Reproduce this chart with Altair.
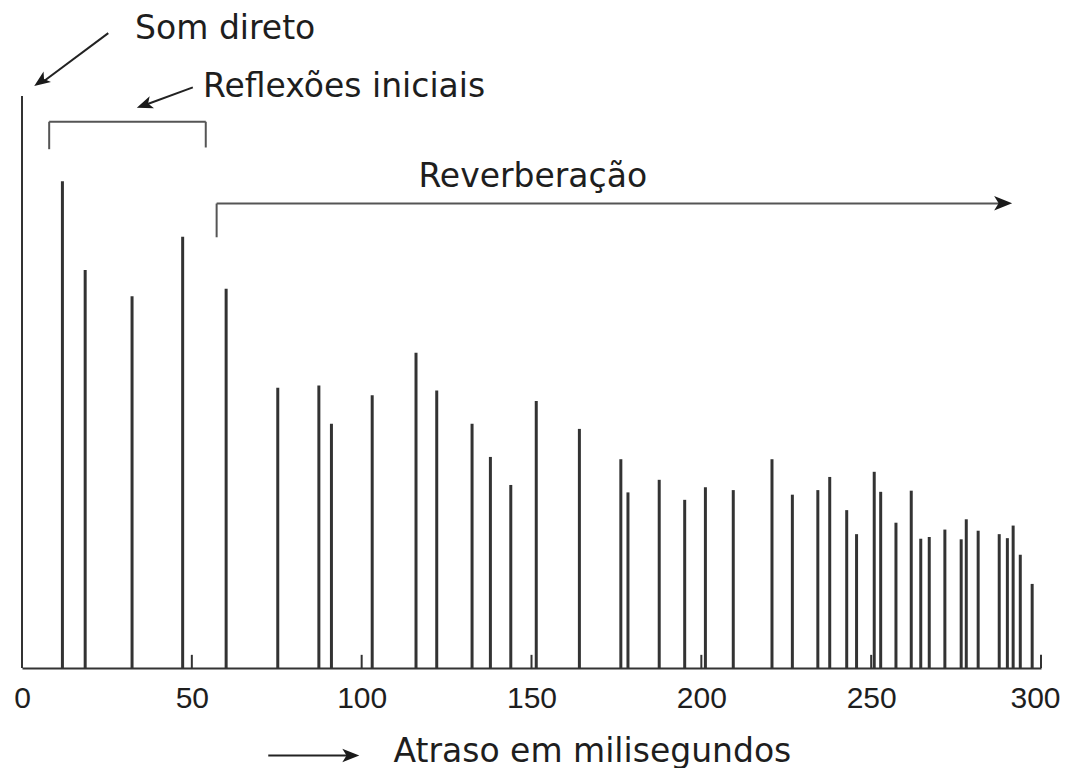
import altair as alt
import pandas as pd

# ---- data ----
delays = [0, 11.9, 18.6, 32.4, 47.3, 60.1, 75.3, 87.4, 91.1, 103.1, 116.0, 122.1,
          132.5, 137.9, 143.9, 151.4, 164.1, 176.3, 178.4, 187.6, 195.1, 201.2,
          209.4, 220.8, 226.8, 234.3, 237.8, 242.8, 245.7, 250.9, 252.8, 257.3,
          261.8, 264.6, 267.1, 271.7, 276.5, 278.0, 281.5, 287.7, 290.1, 291.8,
          293.9, 297.4]
levels = [1.0, 0.851, 0.696, 0.650, 0.754, 0.663, 0.490, 0.494, 0.427, 0.477, 0.551,
          0.485, 0.427, 0.369, 0.320, 0.467, 0.418, 0.365, 0.307, 0.329, 0.294,
          0.316, 0.311, 0.365, 0.303, 0.311, 0.334, 0.276, 0.234, 0.343, 0.308,
          0.254, 0.310, 0.226, 0.229, 0.242, 0.225, 0.260, 0.240, 0.234, 0.227,
          0.249, 0.198, 0.147]
axis_values = [0, 50, 100, 150, 200, 250, 300]
inner_ticks = [50, 100, 150, 200, 250, 300]
tick_len = [0.023] * len(inner_ticks)

# annotation texts (positions in data units: ms / relative level)
note_text = ["Som direto", "Reflexões iniciais", "Reverberação"]
note_x = [33.3, 53.3, 116.7]
note_y = [1.100, 0.998, 0.841]

# bracket segments
brk_x = [8.0, 8.0, 54.1, 57.3, 57.3]
brk_y = [0.907, 0.955, 0.955, 0.753, 0.812]
brk_x2 = [8.0, 54.1, 54.1, 57.3, 289.0]
brk_y2 = [0.955, 0.955, 0.910, 0.812, 0.812]

# arrow shafts
sh_x = [25.4, 50.3, 72.5]
sh_y = [1.110, 1.015, -0.153]
sh_x2 = [6.0, 37.0, 96.0]
sh_y2 = [1.024, 0.986, -0.153]

# arrow heads
hd_x = [3.6, 33.8, 291.5, 99.3]
hd_y = [1.0175, 0.9795, 0.8124, -0.153]
hd_angle = [234.6, 250, 90, 90]
hd_size = [256, 256, 324, 289]

# ---- tables ----
bars = pd.DataFrame({"delay": delays, "level": levels})
ticks = pd.DataFrame({"t": inner_ticks, "len": tick_len})
notes = pd.DataFrame({"text": note_text, "x": note_x, "y": note_y})
brackets = pd.DataFrame({"x": brk_x, "y": brk_y, "x2": brk_x2, "y2": brk_y2})
shafts = pd.DataFrame({"x": sh_x, "y": sh_y, "x2": sh_x2, "y2": sh_y2})
heads = pd.DataFrame({"x": hd_x, "y": hd_y, "angle": hd_angle, "size": hd_size})

xscale = alt.Scale(domain=[0, 300], nice=False, zero=False)
yscale = alt.Scale(domain=[0, 1], nice=False, zero=True)

LINE = "#333333"
TEXT = "#1e1e1e"

xaxis = alt.Axis(
    values=axis_values, ticks=False, grid=False, domain=True,
    domainColor=LINE, domainWidth=2,
    labelFont="Liberation Sans", labelFontSize=30, labelColor=TEXT,
    labelPadding=15, labelFlush=False,
    labelOffset={"condition": {"test": "datum.value === 300", "value": -6}, "value": 0},
    title="Atraso em milisegundos", titleFont="DejaVu Sans", titleFontSize=33,
    titleFontWeight="normal", titleColor=TEXT, titleX=371, titleY=93,
    titleAlign="left", titleBaseline="alphabetic", titleAnchor="start",
)

bar_layer = alt.Chart(bars).mark_rule(color=LINE).encode(
    x=alt.X("delay:Q", scale=xscale, axis=xaxis),
    y=alt.Y("level:Q", scale=yscale, axis=None),
    y2=alt.datum(0),
    strokeWidth=alt.condition(alt.datum.delay == 0, alt.value(2), alt.value(3)),
)

tick_layer = alt.Chart(ticks).mark_rule(color=LINE, strokeWidth=2).encode(
    x=alt.X("t:Q", scale=xscale),
    y=alt.Y("len:Q", scale=yscale),
    y2=alt.datum(0),
)

bracket_layer = alt.Chart(brackets).mark_rule(color="#555555", strokeWidth=2).encode(
    x=alt.X("x:Q", scale=xscale), y=alt.Y("y:Q", scale=yscale),
    x2="x2:Q", y2="y2:Q",
)

shaft_layer = alt.Chart(shafts).mark_rule(color="#222222", strokeWidth=2).encode(
    x=alt.X("x:Q", scale=xscale), y=alt.Y("y:Q", scale=yscale),
    x2="x2:Q", y2="y2:Q",
)

head_layer = alt.Chart(heads).mark_point(
    shape="M0,0L0.8,2L0,1.5L-0.8,2Z", filled=True, opacity=1, color="#1a1a1a",
    strokeWidth=0,
).encode(
    x=alt.X("x:Q", scale=xscale), y=alt.Y("y:Q", scale=yscale),
    angle=alt.Angle("angle:Q", scale=None),
    size=alt.Size("size:Q", scale=None),
)

note_layer = alt.Chart(notes).mark_text(
    align="left", baseline="alphabetic", font="DejaVu Sans", fontSize=33,
    color=TEXT,
).encode(
    x=alt.X("x:Q", scale=xscale), y=alt.Y("y:Q", scale=yscale),
    text="text:N",
)

chart = alt.layer(
    bar_layer, tick_layer, bracket_layer, shaft_layer, head_layer, note_layer
).properties(
    width=1019, height=572,
    padding={"left": 14, "top": 88, "right": 19, "bottom": 100},
    autosize=alt.AutoSizeParams(type="none"),
    background="white",
).configure_view(stroke=None)

chart.save("out.html", embed_options={"renderer": "svg", "actions": False})
